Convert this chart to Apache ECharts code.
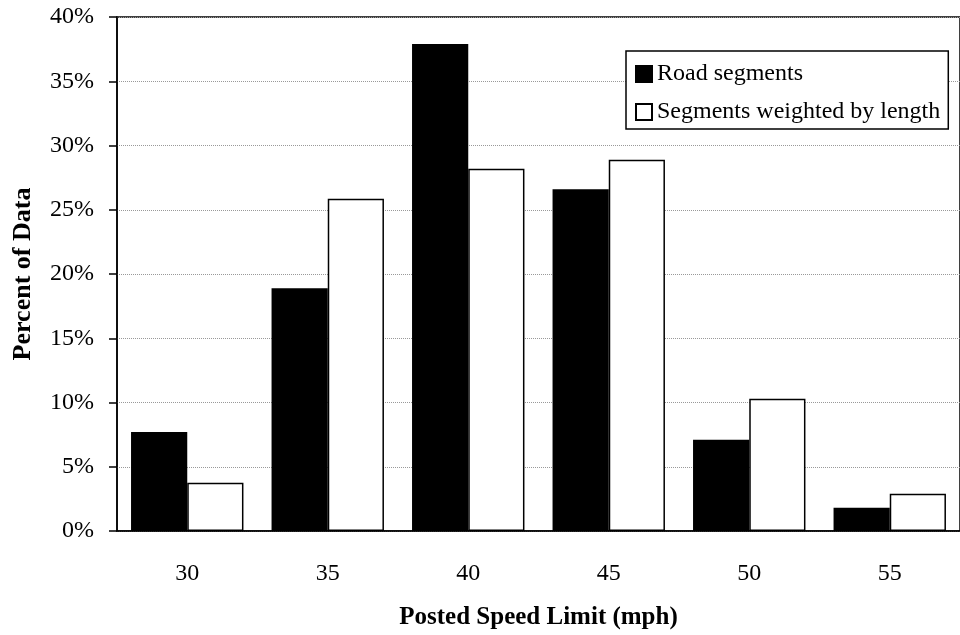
<!DOCTYPE html>
<html>
<head>
<meta charset="utf-8">
<script src="https://cdn.jsdelivr.net/npm/echarts@6/dist/echarts.min.js"></script>
<style>html,body{margin:0;padding:0;background:#fff;}#c{width:960px;height:635px;}</style>
</head>
<body>
<div id="c"></div>
<script>
const categories = ['30', '35', '40', '45', '50', '55'];
const roadSegments = [7.7, 18.9, 37.9, 26.6, 7.1, 1.8];
const weightedByLength = [3.75, 25.85, 28.2, 28.9, 10.3, 2.9];
const seriesNames = ['Road segments', 'Segments weighted by length'];

const font = '"Liberation Serif", "Times New Roman", serif';
const chart = echarts.init(document.getElementById('c'), null, {renderer: 'canvas'});
chart.setOption({
  animation: false,
  backgroundColor: '#fff',
  textStyle: {fontFamily: font},
  grid: {left: 117, right: -9, top: 17, bottom: 103, show: true, borderColor: '#000', borderWidth: 1.5, backgroundColor: 'transparent'},
  legend: {
    orient: 'vertical',
    left: 626, top: 51,
    padding: [11, 8, 5, 9],
    itemWidth: 16, itemHeight: 16,
    itemGap: 14,
    icon: 'rect',
    borderColor: '#000', borderWidth: 1.5,
    backgroundColor: '#fff',
    textStyle: {fontFamily: font, fontSize: 24, color: '#000'},
    data: seriesNames
  },
  xAxis: {
    type: 'category',
    data: categories,
    name: 'Posted Speed Limit (mph)',
    nameLocation: 'middle',
    nameGap: 74,
    nameTextStyle: {fontFamily: font, fontSize: 25, fontWeight: 'bold', color: '#000'},
    axisLine: {lineStyle: {color: '#000', width: 1.5}},
    axisTick: {length: 8, lineStyle: {color: '#000', width: 1.5}},
    axisLabel: {fontFamily: font, fontSize: 24, color: '#000', margin: 31},
    splitLine: {show: false}
  },
  yAxis: {
    type: 'value',
    min: 0, max: 40, interval: 5,
    name: 'Percent of Data',
    nameLocation: 'middle',
    nameGap: 81,
    nameTextStyle: {fontFamily: font, fontSize: 26, fontWeight: 'bold', color: '#000'},
    axisLine: {show: true, lineStyle: {color: '#000', width: 1.5}},
    axisTick: {show: true, length: 8, lineStyle: {color: '#000', width: 1.5}},
    axisLabel: {fontFamily: font, fontSize: 24, color: '#000', margin: 23, formatter: '{value}%'},
    splitLine: {show: true, lineStyle: {color: '#999', width: 1, type: [1, 1]}}
  },
  series: [
    {
      name: seriesNames[0], type: 'bar', data: roadSegments,
      barGap: '0%', barCategoryGap: '20%',
      itemStyle: {color: '#000', borderColor: '#000', borderWidth: 1.5}
    },
    {
      name: seriesNames[1], type: 'bar', data: weightedByLength,
      barGap: '0%', barCategoryGap: '20%',
      itemStyle: {color: '#fff', borderColor: '#000', borderWidth: 1.5}
    }
  ]
});
</script>
</body>
</html>
